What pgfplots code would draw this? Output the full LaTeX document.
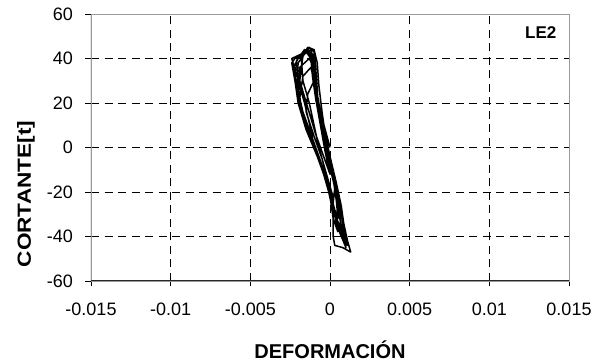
\documentclass[border=0pt]{standalone}
\usepackage{pgfplots}
\pgfplotsset{compat=1.18}
\usepackage{pgfplotstable}
\usepackage{fontspec}
\setmainfont{Liberation Sans}

% hysteresis loops, deformation vs shear
\pgfplotstableread{
x y
0 0
-0.0003 8
-0.0006 16
-0.0008 24
-0.0010 30
-0.0014 24
-0.0015 16
-0.0010 5
-0.0005 -5
-0.0001 -15
0.0002 -25
0.0003 -18
0.0001 -10
-0.0002 0
-0.0005 10
-0.0008 22
-0.0010 30
-0.0012 36
-0.0017 32
-0.0019 22
-0.0015 10
-0.0009 0
-0.0004 -10
0.0000 -20
0.0003 -28
0.0005 -32
0.0004 -24
0.0002 -14
-0.0001 -4
-0.0005 8
-0.0008 20
-0.0009 30
-0.0011 37
-0.0013 40
-0.0019 36
-0.0020 28
-0.0018 18
-0.0012 5
-0.0006 -6
-0.0002 -16
0.0001 -26
0.0004 -32
0.0007 -36
0.0006 -30
0.0004 -20
0.0001 -10
-0.0003 0
-0.0006 10
-0.0008 22
-0.0010 34
-0.0011 40
-0.0014 43
-0.0020 40
-0.0023 36
-0.0021 26
-0.0017 16
-0.0011 4
-0.0005 -8
-0.0001 -18
0.0002 -28
0.0006 -36
0.0009 -40
0.0008 -34
0.0006 -24
0.0003 -14
0.0000 -6
-0.0005 6
-0.0007 16
-0.0009 28
-0.0010 38
-0.0012 44
-0.0016 42
-0.0022 40
-0.0024 38
-0.0022 30
-0.0019 20
-0.0014 10
-0.0010 1
-0.0004 -10
0.0000 -20
0.0003 -30
0.0008 -40
0.0011 -44
0.0009 -38
0.0007 -30
0.0004 -18
0.0001 -8
-0.0004 4
-0.0007 14
-0.0008 26
-0.0009 36
-0.0011 42
-0.0015 44
-0.0018 42
-0.0024 40
-0.0020 30
-0.0016 20
-0.0012 8
-0.0010 0
-0.0004 -10
0.0002 -22
0.0002 -30
0.0002 -40
0.0003 -44
0.0008 -45
0.0013 -47
0.0011 -42
0.0008 -32
0.0005 -20
0.0002 -10
-0.0003 2
-0.0006 12
-0.0008 24
-0.0009 36
-0.0010 43
-0.0013 45
-0.0017 41
-0.0019 30
-0.0014 18
-0.0009 6
-0.0004 -4
0.0000 -12
-0.0003 -2
-0.0006 10
-0.0009 22
-0.0011 32
-0.0012 40
-0.0016 44
-0.0021 39
-0.0022 30
-0.0020 20
-0.0015 8
-0.0008 -4
-0.0003 -14
0.0001 -24
0.0004 -34
0.0007 -40
0.0010 -43
0.0009 -36
0.0007 -26
0.0004 -16
0.0000 -4
-0.0003 6
-0.0005 16
-0.0007 28
-0.0008 38
-0.0010 44
-0.0014 45
-0.0018 40
-0.0017 30
-0.0013 20
-0.0010 10
-0.0007 0
-0.0003 -10
0.0001 -20
0.0003 -30
0.0006 -38
0.0010 -45
0.0008 -38
0.0005 -28
0.0003 -18
-0.0001 -6
-0.0004 4
-0.0007 14
-0.0009 26
-0.0010 36
-0.0012 42
-0.0015 43
-0.0020 38
-0.0021 28
-0.0018 16
-0.0013 6
-0.0009 -2
-0.0004 -12
0.0000 -22
0.0002 -32
0.0005 -38
}\loopdata

\newcommand{\tickfont}{\fontsize{18}{21}\selectfont}

\begin{document}
\begin{tikzpicture}
\path[use as bounding box] (-91pt,-83pt) rectangle (506pt,281pt);
\begin{axis}[
    scale only axis,
    width=478pt, height=267pt,
    xmin=-0.015, xmax=0.015,
    ymin=-60, ymax=60,
    xtick={-0.015,-0.01,-0.005,0,0.005,0.01,0.015},
    xticklabels={{\tickfont -0.015},{\tickfont -0.01},{\tickfont -0.005},{\tickfont 0},{\tickfont 0.005},{\tickfont 0.01},{\tickfont 0.015}},
    ytick={-60,-40,...,60},
    yticklabels={{\tickfont -60},{\tickfont -40},{\tickfont -20},{\tickfont 0},{\tickfont 20},{\tickfont 40},{\tickfont 60}},
    scaled x ticks=false,
    xtick pos=left, ytick pos=left,
    tick align=outside,
    major tick length=5.5pt,
    tick style={black, line width=0.8pt},
    grid=major,
    major grid style={black, line width=0.5pt, dash pattern=on 8pt off 5.5pt},
    axis line style={gray!80, line width=0.8pt},
    xticklabel style={yshift=-13pt},
    yticklabel style={xshift=-9pt},
]
\addplot[black, line width=1.5pt, line join=round] table[x=x, y=y] {\loopdata};
\draw[black!85, line width=1pt] (rel axis cs:0,1) -- (rel axis cs:0,0) -- (rel axis cs:1,0);
\node[anchor=base east, font=\bfseries\fontsize{17}{19}\selectfont] at (rel axis cs:0.981,0.909) {LE2};
\end{axis}
\node[anchor=base, font=\bfseries\fontsize{20}{22}\selectfont] at (239pt,-77pt) {DEFORMACIÓN};
\node[anchor=base, rotate=90, font=\bfseries\fontsize{19}{21}\selectfont] at (-60pt,87pt) {\scalebox{1.19}[1]{CORTANTE[t]}};
\end{tikzpicture}
\end{document}
